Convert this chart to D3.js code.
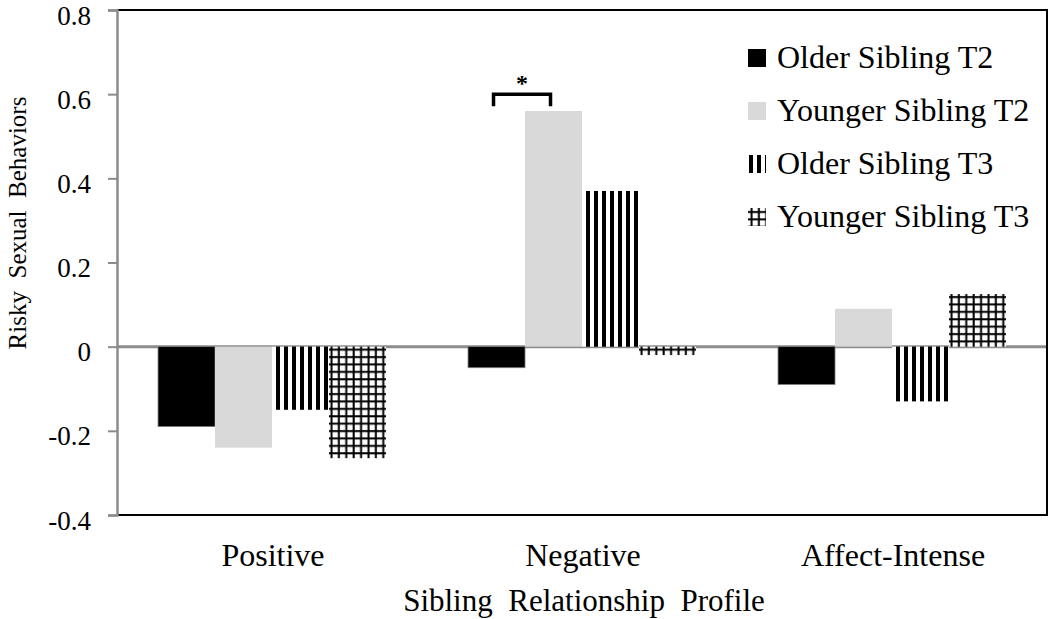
<!DOCTYPE html>
<html>
<head>
<meta charset="utf-8">
<script src="https://cdn.jsdelivr.net/npm/d3@7"></script>
<style>
  html, body { margin: 0; padding: 0; background: #fff; }
  svg { display: block; }
  text { font-family: "Liberation Serif", "Times New Roman", serif; fill: #000; }
</style>
</head>
<body>
<svg id="chart" width="1050" height="619"></svg>
<script>
// ---- Data ----
const categories = ["Positive", "Negative", "Affect-Intense"];
const seriesNames = ["Older Sibling T2", "Younger Sibling T2", "Older Sibling T3", "Younger Sibling T3"];
const olderT2   = [-0.19, -0.05, -0.09];
const youngerT2 = [-0.24,  0.56,  0.09];
const olderT3   = [-0.15,  0.37, -0.13];
const youngerT3 = [-0.265, -0.02, 0.125];
const yTicks = [-0.4, -0.2, 0, 0.2, 0.4, 0.6, 0.8];
const yTickLabels = ["-0.4", "-0.2", "0", "0.2", "0.4", "0.6", "0.8"];
const xTitle = "Sibling  Relationship  Profile";
const yTitle = "Risky  Sexual  Behaviors";
// significance marker: between Older T2 and Younger T2 in "Negative"
const sigCategory = "Negative";
const sigPair = ["Older Sibling T2", "Younger Sibling T2"];
const sigLevel = 0.6;

const seriesValues = [olderT2, youngerT2, olderT3, youngerT3];
const fills = ["solid-black", "solid-gray", "stripes", "grid"];

// ---- Layout ----
const svg = d3.select("#chart");
const pLeft = 117, pRight = 1047, pTop = 10, pBottom = 515;

const y = d3.scaleLinear().domain([-0.4, 0.8]).range([pBottom, pTop]);
const x0 = d3.scaleBand().domain(categories).range([pLeft, pRight]).paddingInner(0).paddingOuter(0);
const x1 = d3.scaleBand().domain(seriesNames).range([0, x0.bandwidth()]).paddingInner(0).paddingOuter(0.72);

const defs = svg.append("defs");

function makePattern(id, kind, ox, oy) {
  if (kind === "stripes") {
    const p = defs.append("pattern").attr("id", id).attr("patternUnits", "userSpaceOnUse")
      .attr("x", ox).attr("y", oy).attr("width", 8).attr("height", 8);
    p.append("rect").attr("width", 8).attr("height", 8).attr("fill", "#fff");
    p.append("rect").attr("x", 4).attr("width", 4).attr("height", 8).attr("fill", "#000");
  } else if (kind === "grid") {
    const s = 7.4;
    const p = defs.append("pattern").attr("id", id).attr("patternUnits", "userSpaceOnUse")
      .attr("x", ox).attr("y", oy).attr("width", s).attr("height", s);
    p.append("rect").attr("width", s).attr("height", s).attr("fill", "#fff");
    p.append("rect").attr("x", 1.5).attr("width", 2).attr("height", s).attr("fill", "#000");
    p.append("rect").attr("y", 2).attr("height", 2).attr("width", s).attr("fill", "#000");
  }
}

function fillFor(kind, id) {
  if (kind === "solid-black") return "#000";
  if (kind === "solid-gray") return "#d9d9d9";
  return `url(#${id})`;
}

// ---- Zero line ----
svg.append("line")
  .attr("x1", pLeft).attr("x2", pRight)
  .attr("y1", y(0)).attr("y2", y(0))
  .attr("stroke", "#8c8c8c").attr("stroke-width", 3);

// ---- Bars ----
const barData = [];
seriesNames.forEach((s, si) => {
  categories.forEach((c, ci) => {
    barData.push({ series: s, si, category: c, ci, value: seriesValues[si][ci] });
  });
});

barData.forEach(d => {
  const bx = x0(d.category) + x1(d.series);
  const by = Math.min(y(d.value), y(0));
  const kind = fills[d.si];
  const id = `pat-${d.si}-${d.ci}`;
  if (kind === "stripes" || kind === "grid") makePattern(id, kind, bx, by);
  d.id = id; d.kind = kind; d.bx = bx; d.by = by;
});

svg.append("g").selectAll("rect")
  .data(barData)
  .join("rect")
  .attr("x", d => d.bx)
  .attr("y", d => d.by)
  .attr("width", x1.bandwidth())
  .attr("height", d => Math.abs(y(d.value) - y(0)))
  .attr("fill", d => fillFor(d.kind, d.id))
  .attr("stroke", d => d.kind === "solid-black" ? "#7f7f7f" : "none")
  .attr("stroke-width", 0.8);

// ---- Frame ----
svg.append("line").attr("x1", pLeft).attr("x2", pRight).attr("y1", pTop).attr("y2", pTop)
  .attr("stroke", "#000").attr("stroke-width", 2);
svg.append("line").attr("x1", pRight).attr("x2", pRight).attr("y1", pTop - 1).attr("y2", pBottom + 1)
  .attr("stroke", "#000").attr("stroke-width", 2);
svg.append("line").attr("x1", pLeft).attr("x2", pRight).attr("y1", pBottom).attr("y2", pBottom)
  .attr("stroke", "#000").attr("stroke-width", 2);

// ---- Y axis ----
const yAxis = d3.axisLeft(y)
  .tickValues(yTicks)
  .tickFormat((d, i) => yTickLabels[i])
  .tickSize(9)
  .tickPadding(17);

const gy = svg.append("g").attr("transform", `translate(${pLeft},0)`).call(yAxis);
gy.attr("font-family", null);
gy.select(".domain").attr("stroke", "#8c8c8c").attr("stroke-width", 2.5);
gy.selectAll(".tick line").attr("stroke", "#8c8c8c").attr("stroke-width", 2);
gy.selectAll(".tick text")
  .style("font-family", "'Liberation Serif', 'Times New Roman', serif")
  .attr("font-size", 27)
  .attr("fill", "#000")
  .attr("dy", "0.52em");

// ---- X labels ----
svg.append("g").selectAll("text")
  .data(categories)
  .join("text")
  .attr("x", d => x0(d) + x0.bandwidth() / 2 + 1)
  .attr("y", 566)
  .attr("text-anchor", "middle")
  .attr("font-size", 32)
  .text(d => d);

svg.append("text")
  .attr("x", 584)
  .attr("y", 611)
  .attr("text-anchor", "middle")
  .attr("font-size", 31)
  .style("white-space", "pre")
  .text(xTitle);

svg.append("text")
  .attr("transform", "translate(26,223) rotate(-90)")
  .attr("text-anchor", "middle")
  .attr("font-size", 25)
  .style("white-space", "pre")
  .text(yTitle);

// ---- Significance bracket ----
const sx1 = x0(sigCategory) + x1(sigPair[0]) + x1.bandwidth() / 2 - 3;
const sx2 = x0(sigCategory) + x1(sigPair[1]) + x1.bandwidth() / 2 - 3;
const sy = y(sigLevel);
svg.append("path")
  .attr("d", `M${sx1},${sy + 12} V${sy} H${sx2} V${sy + 12}`)
  .attr("fill", "none").attr("stroke", "#000").attr("stroke-width", 3.5);
svg.append("text")
  .attr("x", (sx1 + sx2) / 2)
  .attr("y", sy - 3)
  .attr("text-anchor", "middle")
  .attr("font-size", 24)
  .attr("font-weight", "bold")
  .text("*");

// ---- Legend ----
const legend = svg.append("g");
seriesNames.forEach((s, i) => {
  const ly = 49 + 53 * i;
  const kind = fills[i];
  const id = `leg-${i}`;
  if (kind === "stripes") {
    const p = defs.append("pattern").attr("id", id).attr("patternUnits", "userSpaceOnUse")
      .attr("x", 748).attr("y", ly).attr("width", 8).attr("height", 8);
    p.append("rect").attr("width", 8).attr("height", 8).attr("fill", "#fff");
    p.append("rect").attr("x", 1).attr("width", 4).attr("height", 8).attr("fill", "#000");
  } else if (kind === "grid") {
    makePattern(id, kind, 749, ly + 1);
  }
  legend.append("rect")
    .attr("x", 748).attr("y", ly)
    .attr("width", 18).attr("height", 18)
    .attr("fill", fillFor(kind, id));
  legend.append("text")
    .attr("x", 777).attr("y", ly + 19)
    .attr("font-size", 32)
    .text(s);
});
</script>
</body>
</html>
